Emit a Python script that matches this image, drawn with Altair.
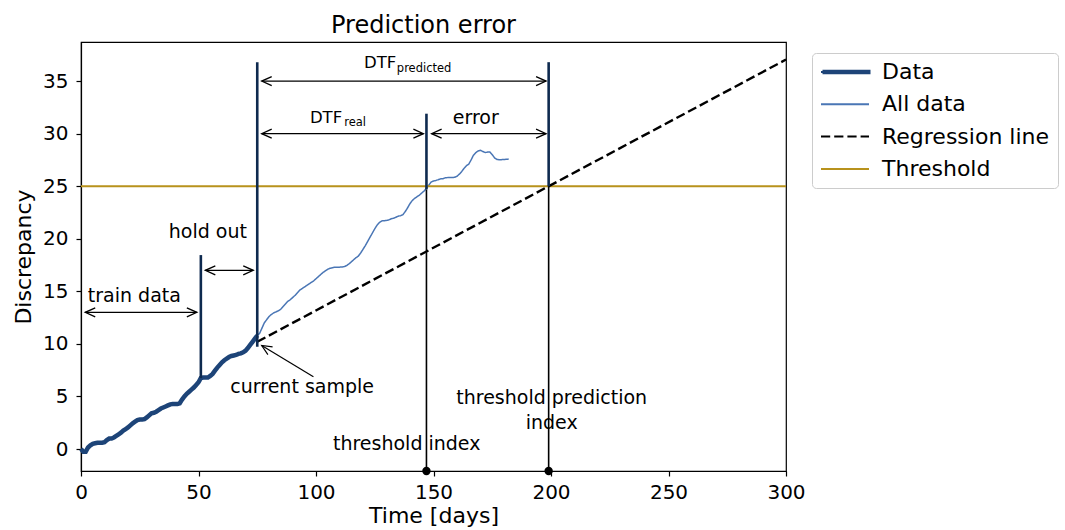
import altair as alt
import pandas as pd

# ---------------- data ----------------
data_vals = [0.0, -0.25, -0.25, 0.15, 0.35, 0.5, 0.55, 0.6, 0.6, 0.6,
             0.65, 0.85, 1.0, 1.0, 1.1, 1.25, 1.4, 1.55, 1.75, 1.9,
             2.05, 2.25, 2.45, 2.6, 2.75, 2.8, 2.8, 2.85, 3.0, 3.2,
             3.4, 3.45, 3.55, 3.7, 3.85, 3.95, 4.05, 4.15, 4.25, 4.28,
             4.28, 4.28, 4.35, 4.7, 5.0, 5.25, 5.45, 5.65, 5.85, 6.1,
             6.35, 6.75, 6.8, 6.8, 6.8, 6.95, 7.15, 7.45, 7.75, 8.0,
             8.25, 8.45, 8.6, 8.75, 8.85, 8.9, 8.95, 9.05, 9.1, 9.2,
             9.35, 9.6, 9.9, 10.2, 10.5, 10.8]
after_vals = [11.0, 11.5, 12.0, 12.3, 12.6, 12.8, 12.95, 13.05, 13.15, 13.3,
              13.55, 13.8, 14.05, 14.2, 14.4, 14.6, 14.85, 15.1, 15.25, 15.4,
              15.55, 15.7, 15.85, 16.0, 16.2, 16.4, 16.6, 16.8, 16.95, 17.1,
              17.2, 17.25, 17.3, 17.3, 17.3, 17.32, 17.35, 17.45, 17.6, 17.8,
              18.0, 18.2, 18.35, 18.65, 19.0, 19.35, 19.75, 20.15, 20.55, 20.95,
              21.3, 21.55, 21.7, 21.72, 21.75, 21.8, 21.9, 21.95, 22.05, 22.15,
              22.2, 22.3, 22.6, 22.95, 23.35, 23.65, 23.85, 24.0, 24.15, 24.35,
              24.55, 24.8, 25.1, 25.4, 25.5, 25.55, 25.62, 25.7, 25.72, 25.8,
              25.82, 25.82, 25.82, 25.85, 25.95, 26.15, 26.4, 26.7, 26.95, 27.1,
              27.5, 27.95, 28.2, 28.35, 28.42, 28.3, 28.2, 28.25, 28.25, 28.0,
              27.7, 27.55, 27.52, 27.53, 27.55, 27.56, 27.58]
all_vals = data_vals + after_vals

reg_days = [75, 300]
reg_vals = [10.2, 37.05]
thr_days = [0, 300]
thr_vals = [25, 25]

x_domain = [0, 300]
y_domain = [-2.09, 38.72]
x_ticks = [0, 50, 100, 150, 200, 250, 300]
y_ticks = [0, 5, 10, 15, 20, 25, 30, 35]

series_names = ["Data", "All data", "Regression line", "Threshold"]
series_colors = ["#1d4478", "#4a76b5", "#000000", "#b8921c"]
series_dash = [[1, 0], [1, 0], [9.2, 4], [1, 0]]

# vertical markers (navy upper parts, black drops to the axis)
vline_x = [51, 75, 147, 199]
vline_lo = [6.75, 9.72, 24.7, 25.0]
vline_hi = [18.45, 36.8, 31.9, 36.8]
drop_x = [147, 199]
drop_hi = [24.7, 25.0]

# double arrows
arrow_y = [13, 17, 35, 30, 30]
arrow_x1 = [1.8, 52.9, 76.9, 76.9, 149.2]
arrow_x2 = [49.3, 73.3, 197.9, 145.7, 197.9]
# pointer arrow to current sample
ptr_x = [98.9, 76.9]
ptr_y = [6.87, 9.85]

# centred annotation labels
ctext = ["hold out", "current sample", "threshold index",
         "threshold prediction", "index", "error"]
ctext_x = [54.0, 94.1, 138.6, 200.3, 200.3, 168.0]
ctext_y = [20.6, 5.92, 0.45, 4.82, 2.5, 31.5]

# left aligned labels
ltext = ["train data", "DTF", "predicted", "DTF", "real"]
ltext_x = [2.9, 120.4, 134.4, 97.4, 112.0]
ltext_y = [14.57, 36.7, 36.15, 31.5, 31.05]
ltext_size = [19, 16.5, 11.5, 16.5, 11.5]

FONT = "DejaVu Sans"

# ---------------- frames ----------------
df_all = pd.DataFrame({"day": list(range(len(all_vals))), "value": all_vals,
                       "series": "All data"})
df_data = pd.DataFrame({"day": list(range(len(data_vals))), "value": data_vals,
                        "series": "Data"})
df_reg = pd.DataFrame({"day": reg_days, "value": reg_vals, "series": "Regression line"})
df_thr = pd.DataFrame({"day": thr_days, "value": thr_vals, "series": "Threshold"})
df_vl = pd.DataFrame({"x": vline_x, "lo": vline_lo, "hi": vline_hi})
df_drop = pd.DataFrame({"x": drop_x, "lo": [y_domain[0]] * len(drop_x), "hi": drop_hi})
df_arr = pd.DataFrame({"x1": arrow_x1, "x2": arrow_x2, "y": arrow_y})
df_ptr = pd.DataFrame({"x": [ptr_x[0]], "x2": [ptr_x[1]], "y": [ptr_y[0]], "y2": [ptr_y[1]]})
df_ptr_head = pd.DataFrame({"x": [ptr_x[1]], "y": [ptr_y[1]]})
df_ct = pd.DataFrame({"t": ctext, "x": ctext_x, "y": ctext_y})
df_lt = pd.DataFrame({"t": ltext, "x": ltext_x, "y": ltext_y, "s": ltext_size})

xs = alt.Scale(domain=x_domain, nice=False, zero=False)
ys = alt.Scale(domain=y_domain, nice=False, zero=False)
x_axis = alt.Axis(values=x_ticks, title="Time [days]", grid=False, labelFlush=False)
y_axis = alt.Axis(values=y_ticks, title="Discrepancy", grid=False, labelFlush=False)

LEG_X, LEG_Y = 731, 11
leg_common = dict(
    title=None, orient="none", legendX=LEG_X, legendY=LEG_Y,
    symbolType="stroke", symbolSize=2304, labelFontSize=22, labelFont=FONT,
    labelColor="black", labelOffset=12, labelLimit=400, padding=8,
    clipHeight=22, rowPadding=10.3,
)
legend_main = alt.Legend(strokeColor="#cccccc", cornerRadius=4,
                         symbolStrokeWidth=2, **leg_common)
legend_data = alt.Legend(symbolStrokeWidth=4.5, labelExpr="''", **leg_common)

color = alt.Color("series:N", scale=alt.Scale(domain=series_names, range=series_colors),
                  legend=legend_main)
dash = alt.StrokeDash("series:N", scale=alt.Scale(domain=series_names, range=series_dash),
                      legend=legend_main)


def line_layer(df, width):
    return alt.Chart(df).mark_line(strokeWidth=width).encode(
        x=alt.X("day:Q", scale=xs, axis=x_axis),
        y=alt.Y("value:Q", scale=ys, axis=y_axis),
        color=color, strokeDash=dash,
    )


all_line = line_layer(df_all, 1.5)
reg_line = line_layer(df_reg, 2.4)
thr_line = line_layer(df_thr, 2.2)
data_line = alt.Chart(df_data).mark_line(strokeWidth=4.5).encode(
    x=alt.X("day:Q", scale=xs, axis=x_axis),
    y=alt.Y("value:Q", scale=ys, axis=y_axis),
    stroke=alt.Stroke("series:N", scale=alt.Scale(domain=series_names[:1],
                                                 range=series_colors[:1]),
                      legend=legend_data),
)

vl = alt.Chart(df_vl).mark_rule(color="#0e2a4f", strokeWidth=2.6).encode(
    x=alt.X("x:Q", scale=xs), y=alt.Y("lo:Q", scale=ys), y2="hi:Q")
drop = alt.Chart(df_drop).mark_rule(color="black", strokeWidth=1.6).encode(
    x=alt.X("x:Q", scale=xs), y=alt.Y("lo:Q", scale=ys), y2="hi:Q")
dots = alt.Chart(df_drop).mark_point(filled=True, color="black", size=70, opacity=1).encode(
    x=alt.X("x:Q", scale=xs), y=alt.Y("lo:Q", scale=ys))

shafts = alt.Chart(df_arr).mark_rule(color="black", strokeWidth=1.3).encode(
    x=alt.X("x1:Q", scale=xs), x2="x2:Q", y=alt.Y("y:Q", scale=ys))
LEFT = "M2,-0.9L0,0L2,0.9"
RIGHT = "M-2,-0.9L0,0L-2,0.9"
heads_l = alt.Chart(df_arr).mark_point(shape=LEFT, filled=False, color="black",
                                        strokeWidth=1.3, size=100, opacity=1).encode(
    x=alt.X("x1:Q", scale=xs), y=alt.Y("y:Q", scale=ys))
heads_r = alt.Chart(df_arr).mark_point(shape=RIGHT, filled=False, color="black",
                                        strokeWidth=1.3, size=100, opacity=1).encode(
    x=alt.X("x2:Q", scale=xs), y=alt.Y("y:Q", scale=ys))
ptr = alt.Chart(df_ptr).mark_rule(color="black", strokeWidth=1.2).encode(
    x=alt.X("x:Q", scale=xs), x2="x2:Q", y=alt.Y("y:Q", scale=ys), y2="y2:Q")
ptr_head = alt.Chart(df_ptr_head).mark_point(shape=LEFT, filled=False, color="black",
                                              strokeWidth=1.2, size=100, opacity=1,
                                              angle=31.5).encode(
    x=alt.X("x:Q", scale=xs), y=alt.Y("y:Q", scale=ys))

ctexts = alt.Chart(df_ct).mark_text(font=FONT, fontSize=19, align="center",
                                    baseline="middle", color="black").encode(
    x=alt.X("x:Q", scale=xs), y=alt.Y("y:Q", scale=ys), text="t:N")
ltexts = alt.Chart(df_lt).mark_text(font=FONT, align="left", baseline="middle",
                                    color="black").encode(
    x=alt.X("x:Q", scale=xs), y=alt.Y("y:Q", scale=ys), text="t:N",
    size=alt.Size("s:Q", scale=None))

chart = alt.layer(
    all_line, data_line, thr_line, reg_line, drop, vl, dots,
    shafts, heads_l, heads_r, ptr, ptr_head, ctexts, ltexts,
).properties(
    width=705, height=429,
    padding={"left": 81, "top": 42, "right": 279, "bottom": 59},
    autosize=alt.AutoSizeParams(type="none"),
    title=alt.Title("Prediction error", fontSize=24, fontWeight="normal",
                    font=FONT, anchor="middle", offset=4, dx=-10, color="black"),
).configure_view(
    stroke="black", strokeWidth=1.2
).configure_axis(
    labelFont=FONT, titleFont=FONT, labelFontSize=20, titleFontSize=22,
    titleFontWeight="normal", labelColor="black", titleColor="black",
    domainColor="black", tickColor="black", tickSize=5, domainWidth=1.2,
    tickWidth=1.2,
).configure_axisX(
    labelPadding=6, titlePadding=3,
).configure_axisY(
    labelPadding=8, titlePadding=7,
)

chart.save("out.html", embed_options={"renderer": "svg", "actions": False})
